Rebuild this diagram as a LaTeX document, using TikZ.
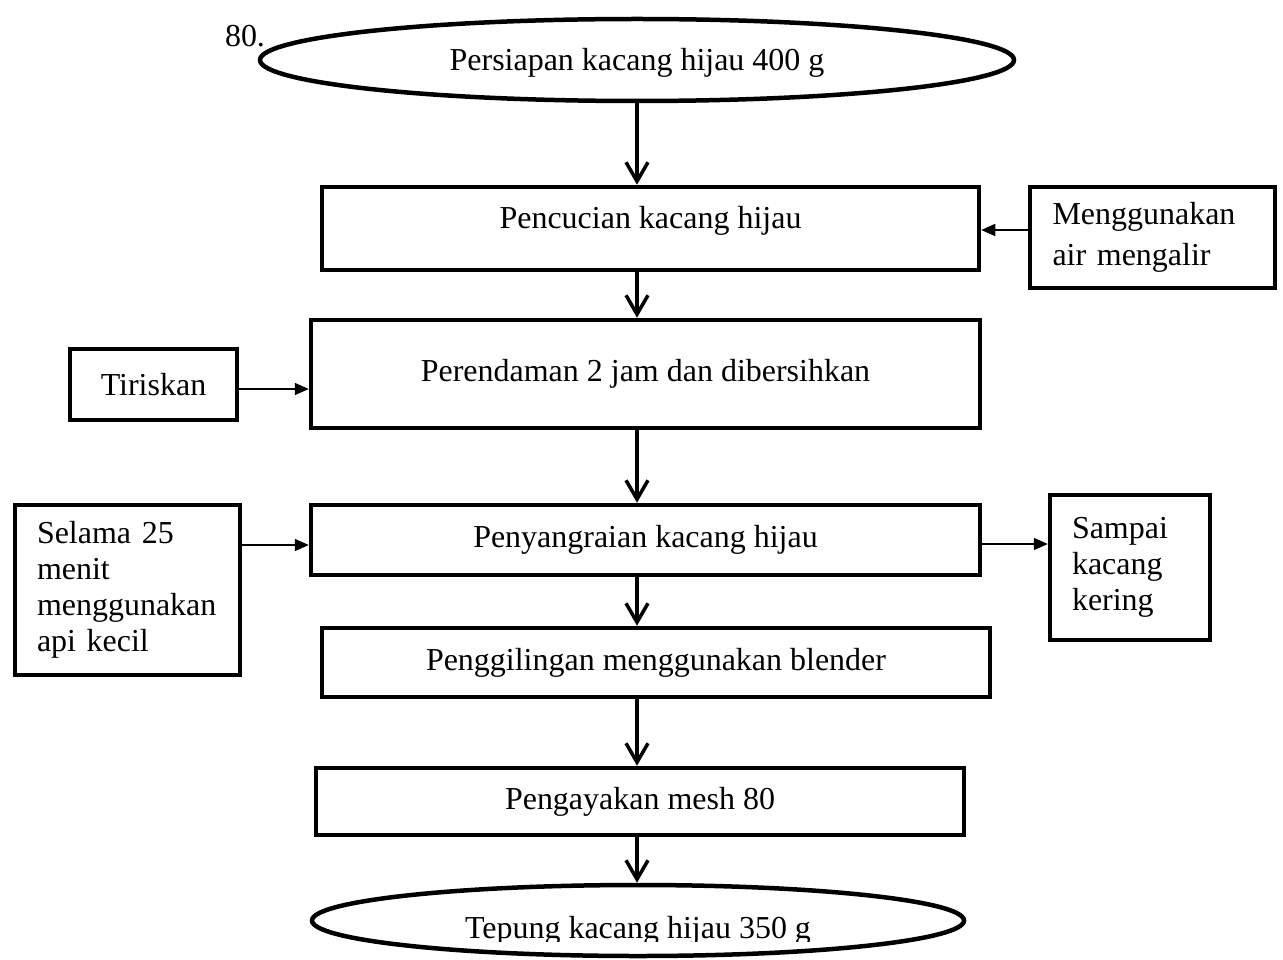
\documentclass[tikz,border=0pt]{standalone}
\usepackage{fontspec}
\setmainfont{Liberation Serif}
\usetikzlibrary{arrows.meta,shapes.geometric}
\begin{document}
\begin{tikzpicture}[x=0.02cm,y=-0.02cm,
 box/.style={draw,line width=0.09cm,inner sep=0pt},
 oval/.style={ellipse,draw,line width=0.09cm,inner sep=0pt},
 varrow/.style={line width=0.065cm,-{Straight Barb[length=0.38cm,width=0.44cm,line width=0.07cm]}},
 harrow/.style={line width=0.035cm,-{Triangle[length=0.28cm,width=0.24cm]}},
 font=\fontsize{18.2}{22}\selectfont]
\useasboundingbox (0,0) rectangle (1283,959);
\clip (0,0) rectangle (1283,959);
\node (n80) at (245,36) {80.};
\node[oval, minimum width=754*0.02cm, minimum height=82*0.02cm, text height=0.56cm, text depth=0.12cm] (start) at (637,60) {Persiapan kacang hijau 400 g};
\node[box, minimum width=657*0.02cm, minimum height=83*0.02cm, text height=0.3cm, text depth=0.3cm] (wash) at (650.5,228.5) {Pencucian kacang hijau};
\node[box, minimum width=245*0.02cm, minimum height=101*0.02cm, text width=200*0.02cm, align=left, font=\fontsize{18.2}{23.2}\selectfont] (water) at (1152.5,237.5) {Menggunakan\\air mengalir};
\node[box, minimum width=167*0.02cm, minimum height=71*0.02cm] (tir) at (153.5,384.5) {Tiriskan};
\node[box, minimum width=669*0.02cm, minimum height=108*0.02cm] (soak) at (645.5,374) {Perendaman 2 jam dan dibersihkan};
\node[box, minimum width=669*0.02cm, minimum height=70*0.02cm] (roast) at (645.5,540) {Penyangraian kacang hijau};
\node[box, minimum width=225*0.02cm, minimum height=170*0.02cm, text width=181*0.02cm, align=left, font=\fontsize{18.2}{20.4}\selectfont] (sel) at (127.5,590) {Selama 25\\menit\\menggunakan\\api kecil};
\node[box, minimum width=160*0.02cm, minimum height=145*0.02cm, text width=116*0.02cm, align=left, font=\fontsize{18.2}{20.4}\selectfont] (dry) at (1130,567.5) {Sampai\\kacang\\kering};
\node[box, minimum width=668*0.02cm, minimum height=69*0.02cm] (grind) at (656,662.5) {Penggilingan menggunakan blender};
\node[box, minimum width=648*0.02cm, minimum height=67*0.02cm] (sieve) at (640,801.5) {Pengayakan mesh 80};
\node[oval, minimum width=652*0.02cm, minimum height=71*0.02cm] (end) at (638,920.5) {};
\begin{scope}
\clip (0,870) rectangle (1283,941);
\node[anchor=base, inner sep=0pt] (endtxt) at (638,938) {Tepung kacang hijau 350 g};
\end{scope}
\draw[varrow] (start.south) -- (start.south |- wash.north);
\draw[varrow] (start.south |- wash.south) -- (start.south |- soak.north);
\draw[varrow] (start.south |- soak.south) -- (start.south |- roast.north);
\draw[varrow] (start.south |- roast.south) -- (start.south |- grind.north);
\draw[varrow] (start.south |- grind.south) -- (start.south |- sieve.north);
\draw[varrow] (start.south |- sieve.south) -- (start.south |- end.north);
\draw[harrow] (water.west |- 0,230) -- (wash.east |- 0,230);
\draw[harrow] (tir.east |- 0,389) -- (soak.west |- 0,389);
\draw[harrow] (sel.east |- 0,545) -- (roast.west |- 0,545);
\draw[harrow] (roast.east |- 0,544) -- (dry.west |- 0,544);
\end{tikzpicture}
\end{document}
